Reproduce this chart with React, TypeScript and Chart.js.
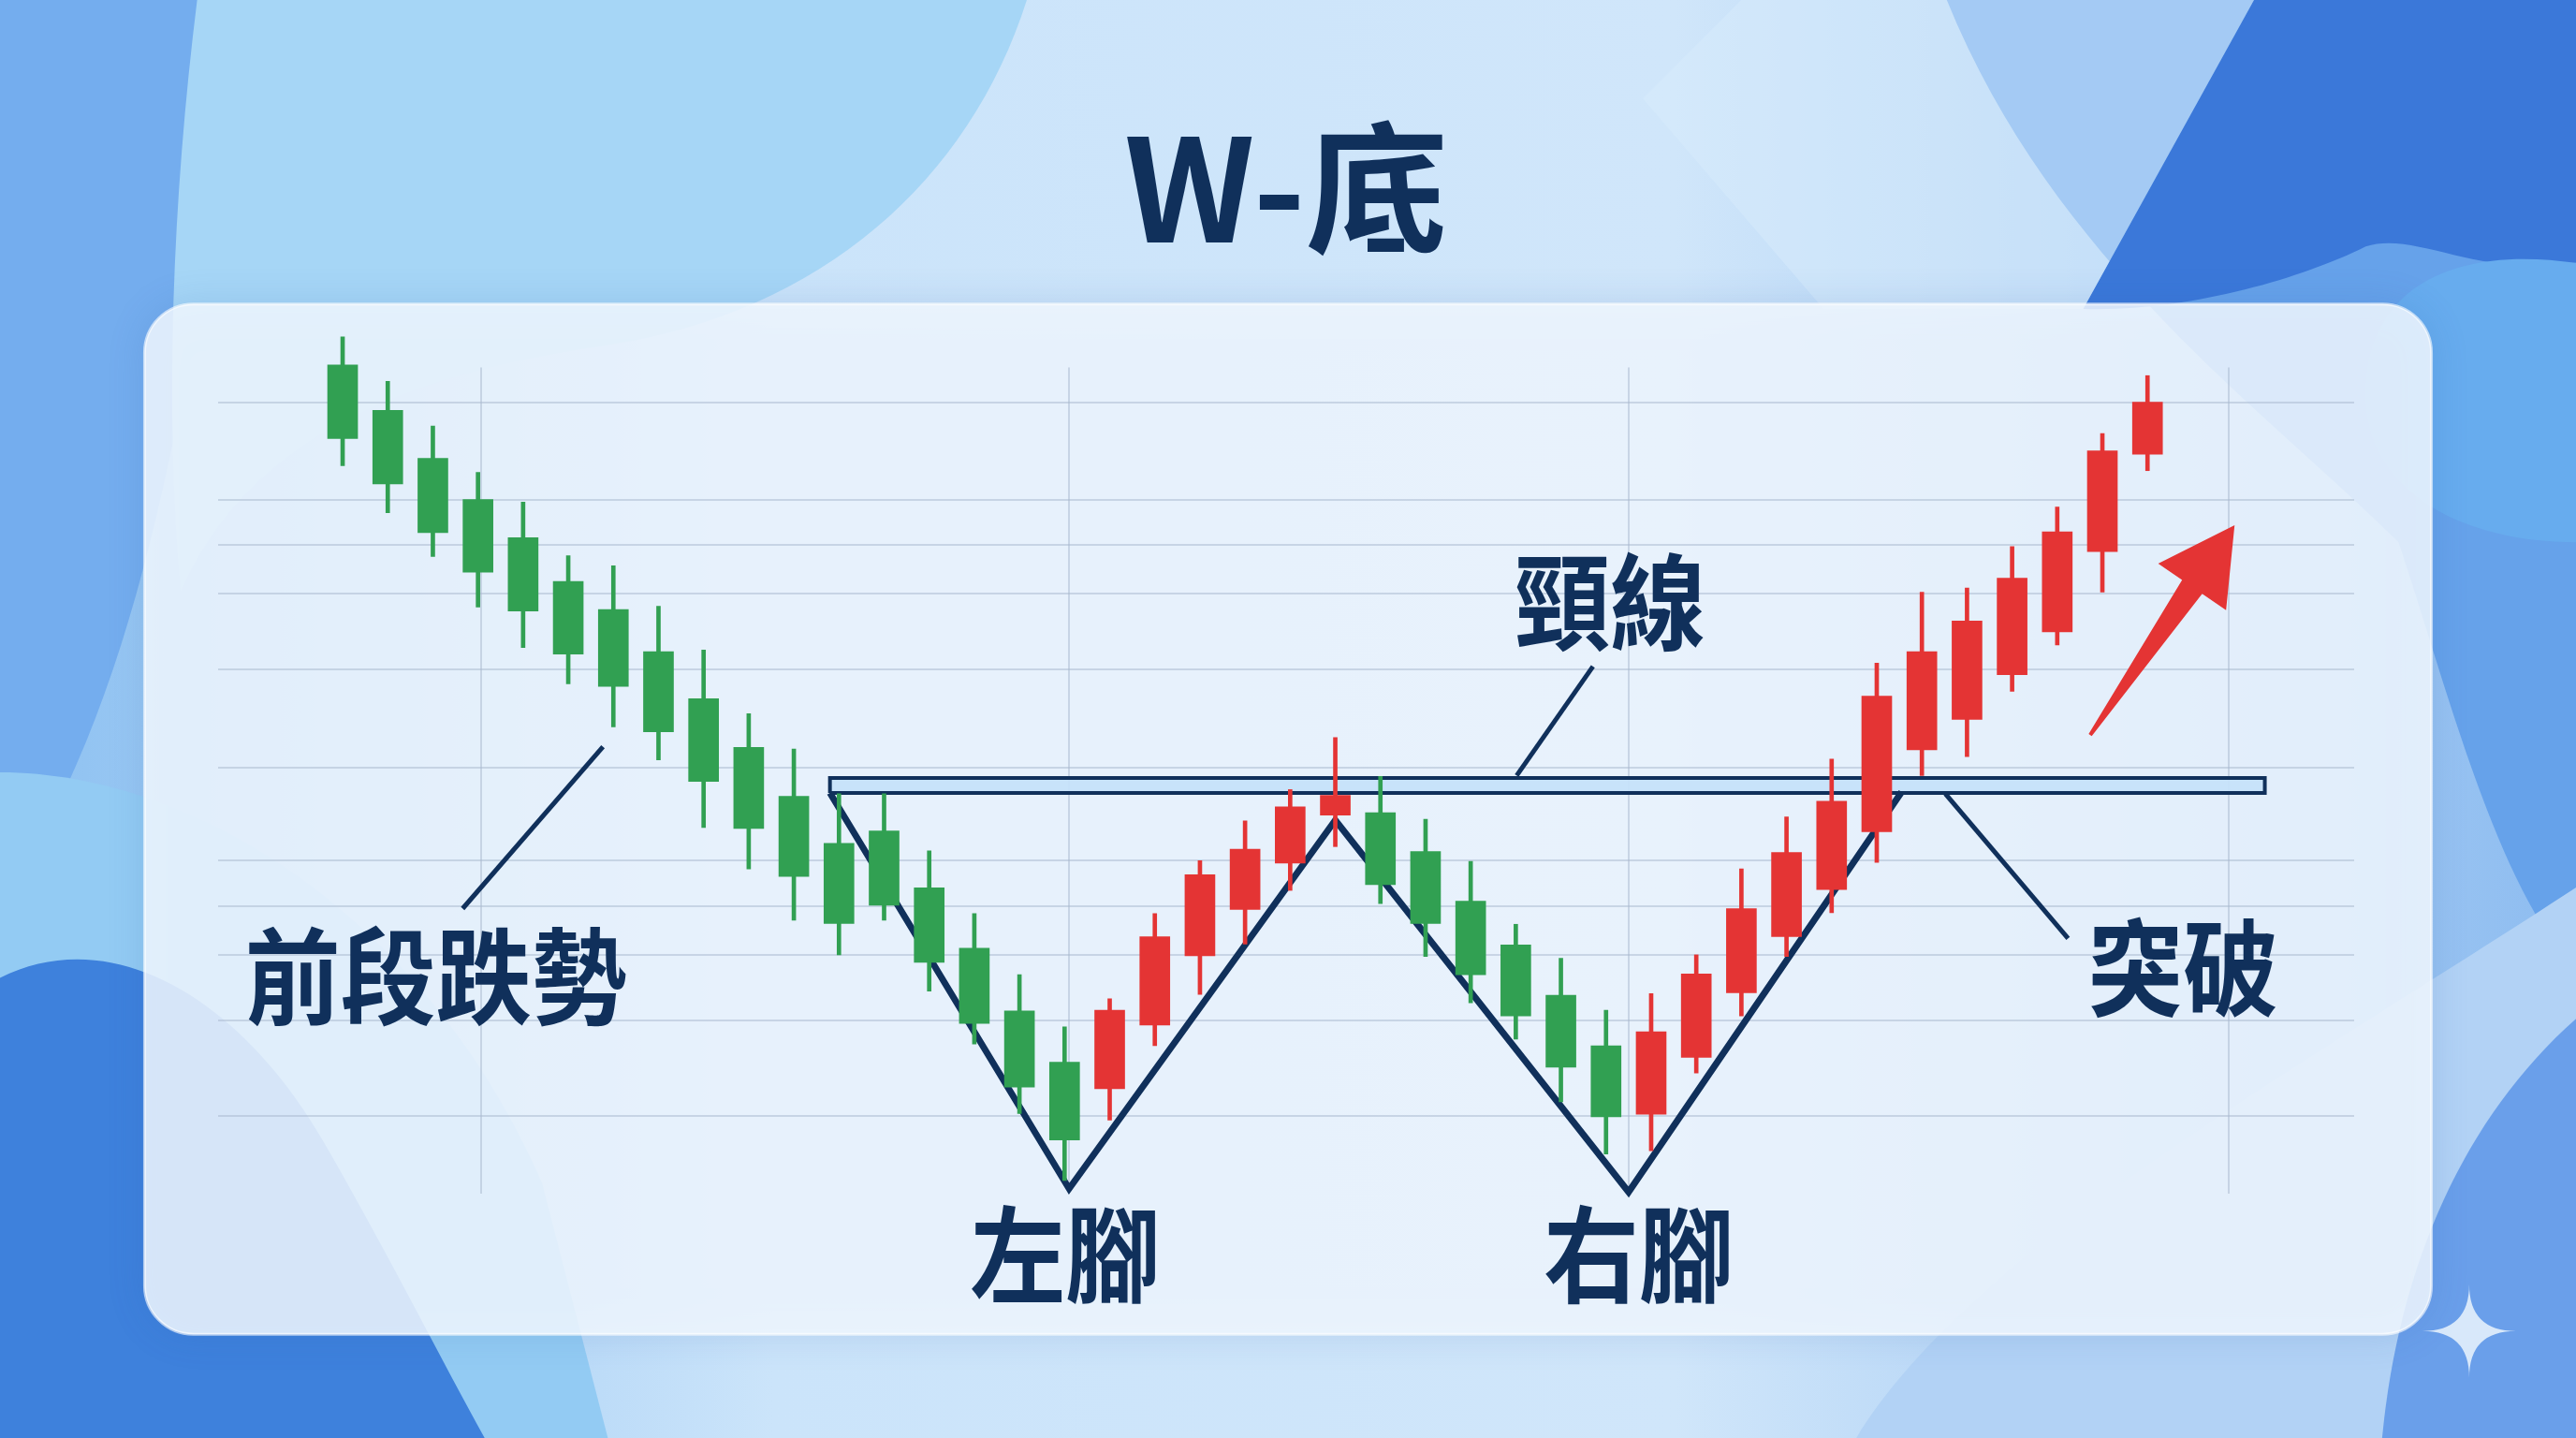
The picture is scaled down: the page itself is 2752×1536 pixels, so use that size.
import React, { useEffect, useRef } from "react";
import { Chart, registerables } from "chart.js";

Chart.register(...registerables);

// ---------- data ----------
const sessions = [1, 2, 3, 4, 5, 6, 7, 8, 9, 10, 11, 12, 13, 14, 15, 16, 17, 18, 19, 20, 21, 22, 23, 24, 25, 26, 27, 28, 29, 30, 31, 32, 33, 34, 35, 36, 37, 38, 39, 40, 41];
const opens = [100.3, 94.8, 89.0, 84.0, 79.4, 74.1, 70.7, 65.6, 59.9, 54.0, 48.1, 42.4, 43.9, 37.0, 29.7, 22.1, 15.9, 12.7, 20.4, 28.8, 34.4, 40.0, 45.8, 46.1, 41.4, 35.4, 30.1, 24.0, 17.9, 9.6, 16.5, 24.3, 31.1, 36.8, 43.8, 53.7, 57.4, 62.8, 68.0, 77.7, 89.5];
const closes = [91.4, 85.9, 80.0, 75.2, 70.5, 65.3, 61.4, 55.9, 49.9, 44.2, 38.4, 32.7, 34.9, 28.0, 20.6, 12.9, 6.5, 22.2, 31.1, 38.6, 41.7, 46.8, 48.2, 37.4, 32.7, 26.5, 21.5, 15.3, 9.3, 19.6, 26.6, 34.5, 41.3, 47.5, 60.2, 65.6, 69.3, 74.5, 80.1, 89.9, 95.8];
const highs = [103.7, 98.3, 92.9, 87.3, 83.7, 77.2, 76.0, 71.1, 65.8, 58.1, 53.8, 48.4, 48.4, 41.5, 33.9, 26.5, 20.2, 23.6, 33.9, 40.3, 45.1, 48.9, 55.2, 50.5, 45.3, 40.2, 32.6, 28.5, 22.2, 24.2, 28.9, 39.3, 45.6, 52.6, 64.2, 72.8, 73.3, 78.3, 83.1, 92.0, 99.0];
const lows = [88.1, 82.4, 77.1, 71.0, 66.1, 61.7, 56.5, 52.5, 44.3, 39.3, 33.1, 28.9, 33.1, 24.5, 18.1, 9.7, 1.6, 8.9, 17.9, 24.1, 30.2, 36.7, 42.0, 35.1, 28.7, 23.1, 18.7, 11.1, 4.8, 5.2, 14.6, 21.5, 28.7, 34.0, 40.1, 50.6, 52.9, 60.8, 66.4, 72.8, 87.5];

const xGridTicks = [4.07, 17.1, 29.5, 42.8];
const yGridTicks = [95.7, 84.0, 78.5, 72.6, 63.4, 51.6, 40.3, 34.8, 28.9, 21.0, 9.4];

const wPatternX = [11.8, 17.1, 23.0, 29.5, 35.55];
const wPatternY = [48.5, 0.6, 45.2, 0.2, 48.6];

const necklineX = [11.8, 43.6];
const necklineY = [48.5, 50.3];

const labelTexts = ["前段跌勢", "頸線", "突破", "左腳", "右腳"];
const labelX = [3.07, 29.09, 41.79, 17.02, 29.73];
const labelY = [26.2, 71.6, 27.3, -7.4, -7.4];

const pointerStartX = [6.77, 28.71, 36.52];
const pointerStartY = [54.1, 63.8, 48.4];
const pointerEndX = [3.66, 27.02, 39.24];
const pointerEndY = [34.5, 50.6, 30.9];

const arrowX = [39.73, 42.93];
const arrowY = [55.5, 80.9];

const chartTitle = "W-底";

// ---------- styles ----------
const RED = "#e43434";
const GREEN = "#31a052";
const NAVY = "#10305b";
const FONT = '"Noto Sans CJK TC", "Noto Sans CJK SC", "Noto Sans", sans-serif';

function drawBackground(ctx: CanvasRenderingContext2D, w: number, h: number) {
  ctx.save();
  ctx.scale(w / 1568, h / 875);
  const g = ctx.createLinearGradient(0, 0, 1568, 0);
  g.addColorStop(0, "#8cc0f1");
  g.addColorStop(0.3, "#cbe4fa");
  g.addColorStop(0.65, "#d0e6fa");
  g.addColorStop(1, "#8dbcf0");
  ctx.fillStyle = g;
  ctx.fillRect(0, 0, 1568, 875);

  const shape = (color: string, f: () => void) => {
    ctx.beginPath();
    f();
    ctx.closePath();
    ctx.fillStyle = color;
    ctx.fill();
  };
  // left blue
  shape("#74adee", () => {
    ctx.moveTo(0, 0);
    ctx.lineTo(160, 0);
    ctx.bezierCurveTo(120, 150, 110, 330, 40, 480);
    ctx.lineTo(0, 490);
  });
  // cyan blob top-left
  shape("#a6d6f6", () => {
    ctx.moveTo(120, 0);
    ctx.lineTo(625, 0);
    ctx.bezierCurveTo(590, 110, 500, 190, 370, 210);
    ctx.bezierCurveTo(240, 228, 150, 270, 110, 360);
    ctx.bezierCurveTo(100, 250, 105, 120, 120, 0);
  });
  // right medium blue
  shape("#66a2ea", () => {
    ctx.moveTo(1185, 0);
    ctx.lineTo(1568, 0);
    ctx.lineTo(1568, 590);
    ctx.bezierCurveTo(1520, 540, 1490, 420, 1460, 330);
    ctx.bezierCurveTo(1380, 250, 1250, 160, 1185, 0);
  });
  // right deep blue
  shape("#3b78d9", () => {
    ctx.moveTo(1372, 0);
    ctx.lineTo(1568, 0);
    ctx.lineTo(1568, 160);
    ctx.bezierCurveTo(1510, 170, 1470, 140, 1440, 150);
    ctx.bezierCurveTo(1400, 170, 1330, 190, 1268, 188);
  });
  // right lighter bulge
  shape("#67acee", () => {
    ctx.moveTo(1568, 160);
    ctx.bezierCurveTo(1500, 150, 1440, 170, 1440, 240);
    ctx.bezierCurveTo(1440, 300, 1500, 330, 1568, 330);
  });
  // light translucent rhombus top-right
  shape("rgba(215,235,252,0.55)", () => {
    ctx.moveTo(1000, 60);
    ctx.lineTo(1060, 0);
    ctx.lineTo(1372, 0);
    ctx.lineTo(1268, 188);
    ctx.lineTo(1110, 188);
  });
  // bottom-left cyan
  shape("#93cbf3", () => {
    ctx.moveTo(0, 470);
    ctx.bezierCurveTo(120, 470, 260, 560, 330, 720);
    ctx.lineTo(370, 875);
    ctx.lineTo(0, 875);
  });
  // bottom-left blue
  shape("#3e81dc", () => {
    ctx.moveTo(0, 595);
    ctx.bezierCurveTo(70, 560, 150, 610, 200, 700);
    ctx.bezierCurveTo(240, 770, 270, 830, 295, 875);
    ctx.lineTo(0, 875);
  });
  // bottom-right light band
  shape("#b2d2f5", () => {
    ctx.moveTo(1130, 875);
    ctx.bezierCurveTo(1200, 760, 1400, 650, 1568, 540);
    ctx.lineTo(1568, 875);
  });
  // bottom-right blue corner
  shape("#6a9fea", () => {
    ctx.moveTo(1568, 620);
    ctx.bezierCurveTo(1500, 680, 1460, 770, 1450, 875);
    ctx.lineTo(1568, 875);
  });
  ctx.restore();

  // panel
  const s = w / 1568;
  const px = 88 * s, py = 185 * s, pw = (1480 - 88) * s, ph = (812 - 185) * s, r = 52;
  ctx.save();
  ctx.shadowColor = "rgba(40,90,170,0.18)";
  ctx.shadowBlur = 40;
  ctx.beginPath();
  ctx.roundRect(px, py, pw, ph, r);
  ctx.fillStyle = "rgba(240,247,254,0.86)";
  ctx.fill();
  ctx.restore();
  ctx.save();
  ctx.beginPath();
  ctx.roundRect(px, py, pw, ph, r);
  ctx.strokeStyle = "rgba(255,255,255,0.6)";
  ctx.lineWidth = 3;
  ctx.stroke();
  ctx.restore();
}

function drawSparkle(ctx: CanvasRenderingContext2D, cx: number, cy: number, r: number) {
  ctx.save();
  ctx.beginPath();
  ctx.moveTo(cx, cy - r);
  ctx.quadraticCurveTo(cx, cy, cx + r, cy);
  ctx.quadraticCurveTo(cx, cy, cx, cy + r);
  ctx.quadraticCurveTo(cx, cy, cx - r, cy);
  ctx.quadraticCurveTo(cx, cy, cx, cy - r);
  ctx.fillStyle = "rgba(235,244,253,0.85)";
  ctx.fill();
  ctx.restore();
}

const backgroundPlugin = {
  id: "wBackground",
  beforeDraw(chart: any) {
    drawBackground(chart.ctx, chart.width, chart.height);
  },
};

const annotationPlugin = {
  id: "wAnnotations",
  afterDatasetsDraw(chart: any) {
    const { ctx } = chart;
    const xs = chart.scales.x;
    const ys = chart.scales.y;
    // arrow
    const tx = xs.getPixelForValue(arrowX[0]);
    const ty = ys.getPixelForValue(arrowY[0]);
    const hx = xs.getPixelForValue(arrowX[1]);
    const hy = ys.getPixelForValue(arrowY[1]);
    const len = Math.hypot(hx - tx, hy - ty);
    const ux = (hx - tx) / len, uy = (hy - ty) / len;
    const nx = -uy, ny = ux;
    const headLen = 80, headHalf = 44, shaftHalf = 13, tailHalf = 2;
    const bx = hx - ux * headLen, by = hy - uy * headLen;
    ctx.save();
    ctx.beginPath();
    ctx.moveTo(hx, hy);
    ctx.lineTo(bx + nx * headHalf, by + ny * headHalf);
    ctx.lineTo(bx + nx * shaftHalf, by + ny * shaftHalf);
    ctx.lineTo(tx + nx * tailHalf, ty + ny * tailHalf);
    ctx.lineTo(tx - nx * tailHalf, ty - ny * tailHalf);
    ctx.lineTo(bx - nx * shaftHalf, by - ny * shaftHalf);
    ctx.lineTo(bx - nx * headHalf, by - ny * headHalf);
    ctx.closePath();
    ctx.fillStyle = RED;
    ctx.fill();
    ctx.restore();

    // labels
    ctx.save();
    ctx.fillStyle = NAVY;
    ctx.font = `bold 102px ${FONT}`;
    ctx.textAlign = "center";
    ctx.textBaseline = "middle";
    labelTexts.forEach((t, i) => {
      const x = xs.getPixelForValue(labelX[i]);
      const y = ys.getPixelForValue(labelY[i]);
      ctx.save();
      ctx.translate(x, y);
      ctx.scale(1, 1.1);
      ctx.fillText(t, 0, 0);
      ctx.restore();
    });
    ctx.restore();
  },
  afterDraw(chart: any) {
    const s = chart.width / 1568;
    drawSparkle(chart.ctx, 1503 * s, 810 * s, 50);
  },
};

export default function App() {
  const ref = useRef<HTMLCanvasElement>(null);

  useEffect(() => {
    const canvas = ref.current;
    if (!canvas) return;

    const candleColors = sessions.map((_, i) => (closes[i] >= opens[i] ? RED : GREEN));

    const bodies = sessions.map((s, i) => ({ x: s, y: [opens[i], closes[i]] }));
    const wicks = sessions.map((s, i) => ({ x: s, y: [lows[i], highs[i]] }));
    const wLine = wPatternX.map((x, i) => ({ x, y: wPatternY[i] }));
    const neckRect = [
      { x: necklineX[0], y: necklineY[0] },
      { x: necklineX[1], y: necklineY[0] },
      { x: necklineX[1], y: necklineY[1] },
      { x: necklineX[0], y: necklineY[1] },
      { x: necklineX[0], y: necklineY[0] },
    ];
    const pointerSets = pointerStartX.map((x, i) => ({
      type: "line" as const,
      data: [
        { x, y: pointerStartY[i] },
        { x: pointerEndX[i], y: pointerEndY[i] },
      ],
      borderColor: NAVY,
      borderWidth: 5,
      pointRadius: 0,
      fill: false,
      tension: 0,
      order: 2,
      clip: false as any,
    }));

    const chart = new Chart(canvas, {
      type: "bar",
      data: {
        datasets: [
          {
            type: "bar",
            data: bodies as any,
            backgroundColor: candleColors,
            borderWidth: 0,
            barThickness: 32,
            grouped: false,
            order: 0,
            clip: false as any,
          },
          {
            type: "bar",
            data: wicks as any,
            backgroundColor: candleColors,
            borderWidth: 0,
            barThickness: 4,
            grouped: false,
            order: 1,
            clip: false as any,
          },
          {
            type: "line",
            data: wLine as any,
            borderColor: NAVY,
            borderWidth: 7,
            borderJoinStyle: "miter",
            pointRadius: 0,
            fill: false,
            tension: 0,
            order: 2,
            clip: false as any,
          },
          {
            type: "line",
            data: neckRect as any,
            borderColor: NAVY,
            backgroundColor: "rgba(198,225,250,0.95)",
            borderWidth: 4,
            pointRadius: 0,
            fill: "shape" as any,
            tension: 0,
            order: 3,
            clip: false as any,
          },
          ...(pointerSets as any),
        ],
      },
      options: {
        responsive: false,
        maintainAspectRatio: false,
        devicePixelRatio: 1,
        animation: false,
        events: [],
        layout: { padding: { left: 233, right: 237, top: 110, bottom: 261 } },
        plugins: {
          legend: { display: false },
          tooltip: { enabled: false },
          title: {
            display: true,
            text: chartTitle,
            color: NAVY,
            font: { family: FONT, size: 152, weight: "bold" },
            padding: { top: 0, bottom: 100 },
          },
        },
        scales: {
          x: {
            type: "linear",
            min: -1.76,
            max: 45.58,
            offset: false,
            grid: { color: "rgba(168,184,205,0.5)", lineWidth: 2, drawTicks: false, offset: false },
            border: { display: false },
            ticks: { display: false },
            afterBuildTicks: (scale: any) => {
              scale.ticks = xGridTicks.map((v) => ({ value: v }));
            },
          },
          y: {
            type: "linear",
            min: 0,
            max: 100,
            grid: { color: "rgba(168,184,205,0.5)", lineWidth: 2, drawTicks: false },
            border: { display: false },
            ticks: { display: false },
            afterBuildTicks: (scale: any) => {
              scale.ticks = yGridTicks.map((v) => ({ value: v }));
            },
          },
        },
      } as any,
      plugins: [backgroundPlugin, annotationPlugin],
    });

    return () => chart.destroy();
  }, []);

  return (
    <div style={{ position: "fixed", left: 0, top: 0, width: 2752, height: 1536, overflow: "hidden" }}>
      <canvas ref={ref} width={2752} height={1536} style={{ display: "block", width: 2752, height: 1536 }} />
    </div>
  );
}
